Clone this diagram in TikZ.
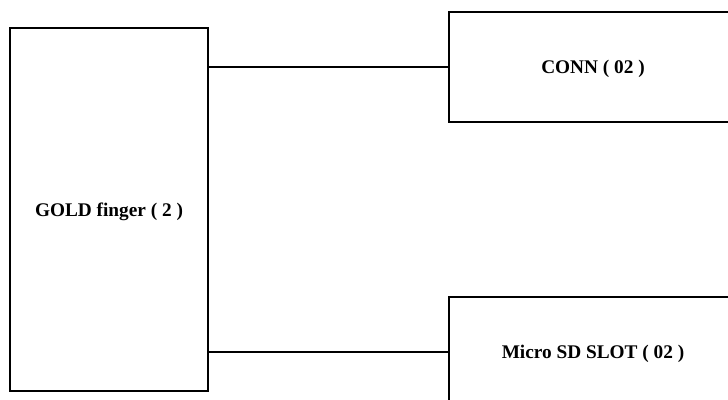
\documentclass[tikz,border=0pt]{standalone}
\usepackage{fontspec}
\setmainfont{Liberation Serif}
\begin{document}
\begin{tikzpicture}[x=1pt,y=-1pt,
  blk/.style={draw=black,line width=2pt,inner sep=0pt,text depth=0pt,font=\fontsize{19.3}{22}\selectfont\bfseries},
  wire/.style={draw=black,line width=1.8pt}]
\useasboundingbox (0,0) rectangle (728,399);
\clip (0,0) rectangle (728,399);
\node[blk,minimum width=198pt,minimum height=363pt] (gold) at (109,209.5) {GOLD finger ( 2 )};
\node[blk,minimum width=288pt,minimum height=110pt] (conn) at (593,67) {CONN ( 02 )};
\node[blk,minimum width=288pt,minimum height=110pt] (slot) at (593,352) {Micro SD SLOT ( 02 )};
\draw[wire] (gold.east |- conn.west) -- (conn.west);
\draw[wire] (gold.east |- slot.west) -- (slot.west);
\end{tikzpicture}
\end{document}
